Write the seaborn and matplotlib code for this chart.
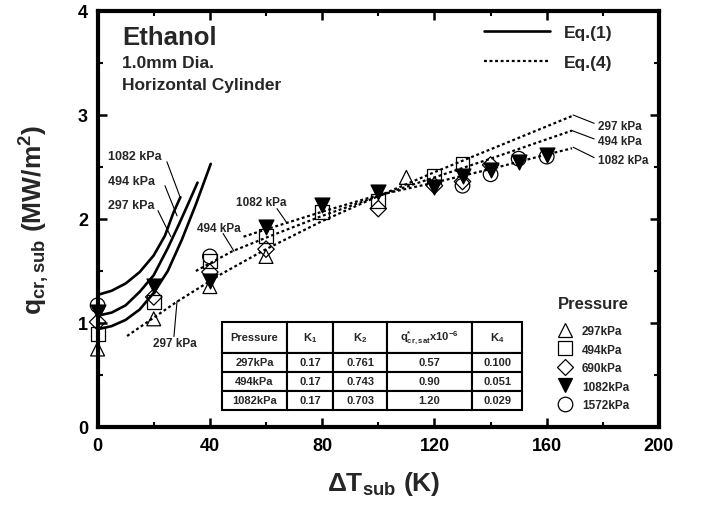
import matplotlib
matplotlib.use("Agg")
import matplotlib.pyplot as plt
import seaborn as sns
import pandas as pd
from matplotlib.lines import Line2D

# ---------------- data ----------------
p297_x = [0, 20, 40, 60, 110]
p297_y = [0.75, 1.04, 1.35, 1.64, 2.40]
p494_x = [0, 20, 40, 60, 80, 100, 120, 130]
p494_y = [0.89, 1.20, 1.60, 1.84, 2.07, 2.17, 2.41, 2.53]
p690_x = [0, 20, 40, 60, 100, 120, 130, 140]
p690_y = [1.01, 1.25, 1.49, 1.71, 2.10, 2.32, 2.36, 2.52]
p1082_x = [0, 20, 40, 60, 80, 100, 120, 130, 140, 150, 160]
p1082_y = [1.11, 1.36, 1.40, 1.92, 2.13, 2.26, 2.31, 2.41, 2.47, 2.55, 2.62]
p1572_x = [0, 40, 130, 140, 150, 160]
p1572_y = [1.17, 1.64, 2.32, 2.43, 2.58, 2.60]

# Eq.(1) curves (solid)
eq1_1082_x = [0, 5, 10, 15, 20, 24, 27, 29.5]
eq1_1082_y = [1.27, 1.31, 1.38, 1.49, 1.65, 1.84, 2.06, 2.21]
eq1_494_x = [0, 5, 10, 15, 20, 25, 29, 32, 35.6]
eq1_494_y = [1.07, 1.10, 1.17, 1.30, 1.46, 1.72, 1.95, 2.13, 2.35]
eq1_297_x = [0, 5, 10, 15, 20, 25, 30, 35, 40.3]
eq1_297_y = [0.94, 0.97, 1.03, 1.13, 1.29, 1.50, 1.80, 2.14, 2.53]

# Eq.(4) curves (dotted)
eq4_297_x = [10.5, 28, 44, 60, 80, 100, 120, 140, 169]
eq4_297_y = [0.875, 1.20, 1.47, 1.71, 1.98, 2.22, 2.45, 2.67, 2.99]
eq4_494_x = [35, 48, 60, 80, 100, 120, 140, 169]
eq4_494_y = [1.50, 1.69, 1.82, 2.03, 2.22, 2.40, 2.58, 2.85]
eq4_1082_x = [52, 60, 80, 100, 120, 140, 160, 169]
eq4_1082_y = [1.83, 1.90, 2.07, 2.23, 2.35, 2.48, 2.62, 2.68]

pressure_labels = ["297kPa", "494kPa", "690kPa", "1082kPa", "1572kPa"]
table_cols = ["Pressure", "K$_1$", "K$_2$", "q$^{*}_{cr,sat}$x10$^{-6}$", "K$_4$"]
table_rows = [["297kPa", "0.17", "0.761", "0.57", "0.100"],
              ["494kPa", "0.17", "0.743", "0.90", "0.051"],
              ["1082kPa", "0.17", "0.703", "1.20", "0.029"]]

# ---------------- style ----------------
sns.set_theme(style="ticks")
plt.rcParams["font.family"] = ["Liberation Sans", "DejaVu Sans"]
plt.rcParams["font.weight"] = "bold"
plt.rcParams["mathtext.fontset"] = "custom"
for k in ["rm", "it", "bf", "sf"]:
    plt.rcParams["mathtext." + k] = "Liberation Sans:bold"

fig = plt.figure(figsize=(7.02, 5.06), dpi=100)
W, H = 702, 506
L, R, T, B = 97.6, 659.0, 12.0, 428.0
ax = fig.add_axes([L / W, (H - B) / H, (R - L) / W, (B - T) / H])

DOT = (0, (1.3, 1.2))

# Eq.(1) solid
for xs, ys in [(eq1_1082_x, eq1_1082_y), (eq1_494_x, eq1_494_y), (eq1_297_x, eq1_297_y)]:
    sns.lineplot(x=xs, y=ys, ax=ax, color="black", lw=1.9, estimator=None)
# Eq.(4) dotted
for xs, ys in [(eq4_297_x, eq4_297_y), (eq4_494_x, eq4_494_y), (eq4_1082_x, eq4_1082_y)]:
    sns.lineplot(x=xs, y=ys, ax=ax, color="black", lw=1.6, estimator=None,
                 linestyle=DOT)

# markers
series = [
    (p297_x, p297_y, "^", 100, "none"),
    (p494_x, p494_y, "s", 100, "none"),
    (p690_x, p690_y, "D", 70, "none"),
    (p1082_x, p1082_y, "v", 115, "black"),
    (p1572_x, p1572_y, "o", 110, "none"),
]
for xs, ys, m, s, fc in series:
    sns.scatterplot(x=xs, y=ys, ax=ax, marker=m, s=s, facecolor=fc,
                    edgecolor="black", linewidth=0.9, zorder=5, clip_on=False)

ax.set_xlim(0, 200)
ax.set_ylim(0, 4)
ax.set_xticks([0, 40, 80, 120, 160, 200])
ax.set_xticks([20, 60, 100, 140, 180], minor=True)
ax.set_yticks([0, 1, 2, 3, 4])
ax.set_yticks([0.5, 1.5, 2.5, 3.5], minor=True)
ax.tick_params(which="both", direction="in", top=True, right=True, colors="black")
ax.tick_params(which="major", length=6.5, width=1.8, labelsize=13, pad=7)
ax.tick_params(which="minor", length=3.5, width=1.5)
for lab in ax.get_xticklabels() + ax.get_yticklabels():
    lab.set_fontweight("bold")
for sp in ax.spines.values():
    sp.set_linewidth(3)
    sp.set_color("black")
    sp.set_visible(True)

ax.set_xlabel("ΔT$_{sub}$ (K)", fontsize=19, fontweight="bold")
ax.set_ylabel("q$_{cr,sub}$ (MW/m$^{2}$)", fontsize=19, fontweight="bold")
ax.xaxis.set_label_coords(0.51, -0.10)
ax.yaxis.set_label_coords(-0.082, 0.5)

# titles
ax.text(0.0434, 0.921, "Ethanol", transform=ax.transAxes, fontsize=18.5,
        fontweight="bold", va="baseline")
ax.text(0.0434, 0.865, "1.0mm Dia.", transform=ax.transAxes, fontsize=12.5,
        fontweight="bold", va="baseline")
ax.text(0.0434, 0.8125, "Horizontal Cylinder", transform=ax.transAxes, fontsize=12.5,
        fontweight="bold", va="baseline")

# curve labels
def label(x, y, s, ha="left", fs=9):
    ax.text(x, y, s, ha=ha, va="center", fontsize=fs, fontweight="bold")

def leader(p0, p1):
    ax.annotate("", xy=p1, xytext=p0,
                arrowprops=dict(arrowstyle="-", lw=0.8, color="black",
                                shrinkA=0, shrinkB=0))

label(3.7, 2.61, "1082 kPa")
label(3.7, 2.37, "494 kPa")
label(3.7, 2.13, "297 kPa")
leader((24.7, 2.55), (29.4, 2.21))
leader((24.0, 2.32), (28.3, 2.03))
leader((21.5, 2.08), (26.1, 1.83))

label(58.2, 2.16, "1082 kPa", ha="center", fs=8.5)
label(43.1, 1.91, "494 kPa", ha="center", fs=8.5)
label(27.6, 0.81, "297 kPa", ha="center", fs=8.5)
leader((63.9, 2.10), (67.5, 1.96))
leader((44.7, 1.86), (48.6, 1.69))
leader((27.2, 0.87), (28.3, 1.21))

label(178.4, 2.89, "297 kPa", fs=8.5)
label(178.4, 2.75, "494 kPa", fs=8.5)
label(178.4, 2.57, "1082 kPa", fs=8.5)
leader((169.4, 3.0), (176.9, 2.92))
leader((169.0, 2.85), (176.9, 2.77))
leader((169.4, 2.69), (176.9, 2.59))

# legends
eq_handles = [Line2D([], [], color="black", lw=1.9),
              Line2D([], [], color="black", lw=1.6, linestyle=DOT)]
leg1 = ax.legend(eq_handles, ["Eq.(1)", "Eq.(4)"], loc="upper left",
                 bbox_to_anchor=(0.689, 0.967), frameon=False, borderpad=0,
                 borderaxespad=0, handlelength=3.75, handletextpad=0.85,
                 labelspacing=0.85, prop={"size": 12.5, "weight": "bold"})
ax.add_artist(leg1)

ax.text(0.820, 0.2957, "Pressure", transform=ax.transAxes, fontsize=12,
        fontweight="bold", ha="left", va="center")
p_handles = [Line2D([], [], marker=m, ls="none", markersize=(s ** 0.5),
                    mfc=fc, mec="black", mew=0.9) for _, _, m, s, fc in series]
leg2 = ax.legend(p_handles, pressure_labels,
                 loc="upper left", bbox_to_anchor=(0.820, 0.245), frameon=False,
                 borderpad=0, borderaxespad=0, handlelength=1.19, handletextpad=0.85,
                 labelspacing=0.55, prop={"size": 8.5, "weight": "bold"})

# table
tbl = ax.table(cellText=table_rows, colLabels=table_cols, cellLoc="center",
               colWidths=[65, 46, 54, 85, 50],
               bbox=[0.2216, 0.0409, 0.5345, 0.2115])
tbl.auto_set_font_size(False)
tbl.set_fontsize(8)
for (r, c), cell in tbl.get_celld().items():
    cell.set_linewidth(1.5)
    cell.set_edgecolor("black")
    cell.set_facecolor("white")
    cell.get_text().set_fontweight("bold")
    cell.set_height(31 if r == 0 else 19)
tbl.set_zorder(6)

fig.savefig("out.png", dpi=100)
